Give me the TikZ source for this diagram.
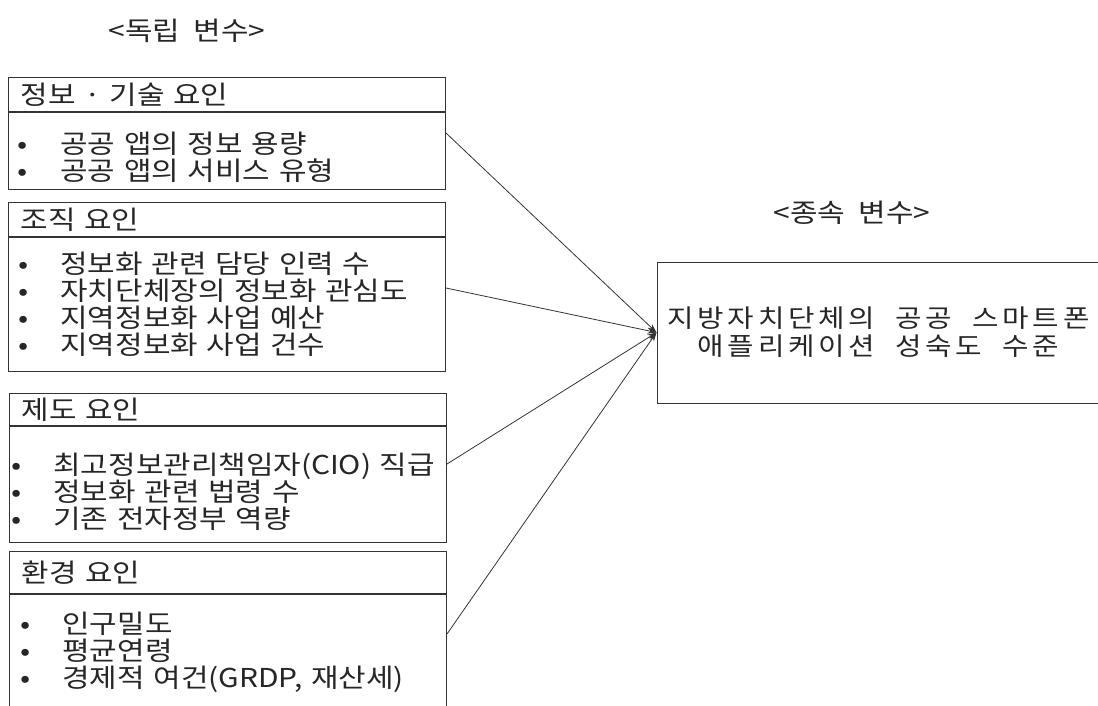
\documentclass[tikz,border=0pt]{standalone}
\usepackage{fontspec}
\setmainfont{Noto Sans CJK KR}[WordSpace=2,FakeStretch=1.15]
\newfontfamily\depfont{Noto Sans CJK KR}[WordSpace=2,FakeStretch=1.15,LetterSpace=15]
\usepackage{tikz}
\usetikzlibrary{arrows.meta}
\usepackage{xcolor}
% bullet: #1 = bullet centre, #2 = start of text (from left edge of the box)
\newcommand{\itm}[2]{\makebox[#2][l]{\hspace{#1}\makebox[0pt]{•}}}
\newcommand{\tightls}{\lineskiplimit=-50pt\relax}
\tikzset{
  ttl/.style={font=\fontsize{26}{26}\selectfont, text=black!85, inner sep=0pt},
  hdr/.style={draw=black!80, line width=1pt, anchor=north west, inner xsep=12pt,
    inner ysep=0pt, text width=413pt, minimum width=437pt, align=left,
    font=\fontsize{26}{26}\selectfont, text=black!85},
  bdy/.style={draw=black!80, line width=1pt, anchor=north west, inner xsep=0pt,
    inner ysep=0pt, text width=437pt, minimum width=437pt, align=left,
    font=\fontsize{26}{27}\selectfont\tightls, text=black!85},
  dep/.style={draw=black!80, line width=1pt, minimum width=443pt, minimum height=141pt,
    align=center, font=\depfont\fontsize{25}{28}\selectfont\tightls, text=black!85},
  arr/.style={-{Stealth[length=9pt,width=6pt]}, line width=0.8pt, black!80},
}
\begin{document}
\begin{tikzpicture}[x=1pt,y=-1pt]
  \useasboundingbox (0,0) rectangle (1098,706);
  % independent variables
  \node[ttl] (ivar) at (187,31) {<독립 변수>};
  \node[hdr, minimum height=34pt] (h1) at (8,77) {정보 · 기술 요인};
  \node[bdy, minimum height=77pt] (b1) at (h1.south west) {\rule{0pt}{35pt}\itm{14pt}{52pt}공공 앱의 정보 용량\\
    \itm{14pt}{52pt}공공 앱의 서비스 유형};
  \node[hdr, minimum height=34pt] (h2) at (8,202) {조직 요인};
  \node[bdy, minimum height=134pt] (b2) at (h2.south west) {\itm{15pt}{52pt}정보화 관련 담당 인력 수\\
    \itm{15pt}{52pt}자치단체장의 정보화 관심도\\
    \itm{15pt}{52pt}지역정보화 사업 예산\\
    \itm{15pt}{52pt}지역정보화 사업 건수};
  \node[hdr, minimum height=32pt] (h3) at (9,393) {제도 요인};
  \node[bdy, minimum height=116pt] (b3) at (h3.south west) {\rule{0pt}{36pt}\itm{7pt}{44pt}최고정보관리책임자(CIO) 직급\\
    \itm{7pt}{44pt}정보화 관련 법령 수\\
    \itm{7pt}{44pt}기존 전자정부 역량};
  \node[hdr, minimum height=42pt] (h4) at (9,551) {환경 요인};
  \node[bdy, minimum height=115pt] (b4) at (h4.south west) {\itm{16pt}{53pt}인구밀도\\
    \itm{16pt}{53pt}평균연령\\
    \itm{16pt}{53pt}경제적 여건(GRDP, 재산세)};
  % dependent variable
  \node[ttl] (dvar) at (852,213) {<종속 변수>};
  \node[dep] (dv) at (878.5,332.5) {지방자치단체의 공공 스마트폰\\애플리케이션 성숙도 수준};
  \draw[arr] ([yshift=-21pt]b1.north east) -- (dv.west);
  \draw[arr] ([yshift=-51pt]b2.north east) -- (dv.west);
  \draw[arr] ([yshift=-38pt]b3.north east) -- (dv.west);
  \draw[arr] ([yshift=-40pt]b4.north east) -- (dv.west);
\end{tikzpicture}
\end{document}
